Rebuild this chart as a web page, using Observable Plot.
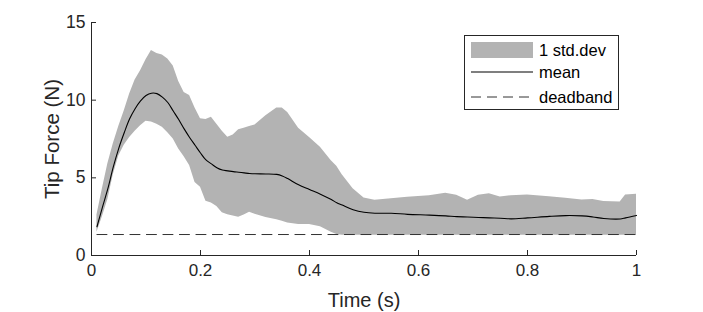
<!DOCTYPE html>
<html><head><meta charset="utf-8">
<script src="https://cdn.jsdelivr.net/npm/d3@7"></script>
<script src="https://cdn.jsdelivr.net/npm/@observablehq/plot@0.6"></script>
<style>
body{margin:0;background:#fff;}
#wrap{position:relative;width:703px;height:312px;font-family:"Liberation Sans",Arial,sans-serif;color:#262626;}
#legend{position:absolute;left:0;top:0;}
</style></head><body><div id="wrap"></div>
<script>
const time  = [0.01,0.02,0.03,0.04,0.05,0.06,0.07,0.08,0.09,0.10,0.11,0.12,0.13,0.14,0.15,0.16,0.17,0.18,0.19,0.20,0.21,0.22,0.23,0.24,0.25,0.26,0.27,0.28,0.29,0.30,0.32,0.34,0.35,0.36,0.38,0.40,0.42,0.44,0.45,0.46,0.48,0.50,0.52,0.55,0.58,0.62,0.65,0.67,0.69,0.71,0.73,0.75,0.77,0.80,0.84,0.87,0.90,0.92,0.94,0.97,0.98,1.00];
const upper = [2.6,4.3,5.9,7.2,8.3,9.3,10.4,11.3,11.9,12.6,13.2,13.0,12.9,12.65,12.2,11.2,10.5,10.3,9.5,8.8,8.75,8.9,8.45,8.0,7.62,7.75,8.1,8.2,8.3,8.4,9.0,9.5,9.5,9.2,8.2,7.6,6.97,6.1,5.75,5.2,4.3,3.7,3.55,3.65,3.75,3.85,4.0,3.88,3.55,3.88,3.97,3.76,3.85,3.9,3.78,3.68,3.58,3.6,3.47,3.45,3.9,3.95];
const lower = [1.5,2.5,3.6,5.2,6.4,7.1,7.6,8.0,8.35,8.65,8.6,8.45,8.25,7.9,7.5,6.85,6.35,5.8,4.7,4.4,3.5,3.38,3.15,2.75,2.62,2.55,2.47,2.6,2.78,2.65,2.45,2.3,2.2,2.1,2.0,2.0,1.85,1.5,1.35,1.3,1.3,1.3,1.3,1.3,1.3,1.3,1.3,1.3,1.3,1.3,1.3,1.3,1.3,1.3,1.3,1.3,1.3,1.3,1.3,1.3,1.3,1.3];
const mean  = [1.85,3.1,4.3,5.7,6.9,7.9,8.8,9.45,9.95,10.3,10.45,10.42,10.2,9.85,9.3,8.75,8.15,7.6,7.1,6.6,6.15,5.9,5.65,5.5,5.45,5.4,5.36,5.32,5.28,5.26,5.25,5.22,5.12,4.95,4.55,4.25,3.95,3.6,3.4,3.25,2.95,2.78,2.72,2.72,2.65,2.6,2.55,2.5,2.48,2.45,2.42,2.4,2.36,2.42,2.52,2.57,2.55,2.48,2.38,2.35,2.42,2.58];
const deadbandTime = [0.01, 1.0];
const deadbandLevel = 1.35;
const xTicks = [0, 0.2, 0.4, 0.6, 0.8, 1];
const yTicks = [0, 5, 10, 15];
const xLabel = "Time (s)";
const yLabel = "Tip Force (N)";
const legendLabels = ["1 std.dev", "mean", "deadband"];

const rows = time.map((t, i) => ({t, upper: upper[i], lower: lower[i], mean: mean[i]}));
const deadband = deadbandTime.map(t => ({t, v: deadbandLevel}));

const BAND = "#b3b3b3", AXIS = "#262626";

const chart = Plot.plot({
  width: 703, height: 312,
  marginLeft: 91, marginRight: 67, marginTop: 22, marginBottom: 57,
  style: {fontFamily: '"Liberation Sans", Arial, sans-serif', color: AXIS, background: "white", overflow: "visible"},
  x: {domain: [0, 1]},
  y: {domain: [0, 15]},
  marks: [
    Plot.areaY(rows, {x: "t", y1: "lower", y2: "upper", fill: BAND, curve: "linear"}),
    Plot.lineY(deadband, {x: "t", y: "v", stroke: "#333", strokeWidth: 1, strokeDasharray: "10,6.5"}),
    Plot.lineY(rows, {x: "t", y: "mean", stroke: "#000", strokeWidth: 1.1, curve: "catmull-rom"}),
    Plot.ruleY([0], {stroke: AXIS}),
    Plot.ruleX([0], {stroke: AXIS}),
    Plot.axisX(xTicks, {tickSize: -5, tickPadding: 13, fontSize: 17, tickFormat: d => String(d), label: null, stroke: AXIS}),
    Plot.axisY(yTicks, {tickSize: -5, tickPadding: 11, fontSize: 17.5, tickFormat: d => String(d), label: null, stroke: AXIS}),
    Plot.text([xLabel], {frameAnchor: "bottom", dy: 37, fontSize: 20, lineAnchor: "top", fill: AXIS}),
    Plot.text([yLabel], {frameAnchor: "left", dx: -39, rotate: -90, textAnchor: "middle", fontSize: 20.5, fill: AXIS})
  ]
});
const wrap = document.getElementById("wrap");
wrap.appendChild(chart);

// legend overlay
const lg = d3.select(wrap).append("svg").attr("id", "legend").attr("width", 703).attr("height", 312)
  .style("font-family", '"Liberation Sans", Arial, sans-serif');
lg.append("rect").attr("x", 464.5).attr("y", 35.5).attr("width", 154).attr("height", 74)
  .attr("fill", "white").attr("stroke", AXIS).attr("stroke-width", 1);
lg.append("rect").attr("x", 471).attr("y", 42).attr("width", 62).attr("height", 16).attr("fill", BAND);
lg.append("line").attr("x1", 471).attr("x2", 533).attr("y1", 72).attr("y2", 72).attr("stroke", "#000").attr("stroke-width", 1.1);
lg.append("line").attr("x1", 471).attr("x2", 533).attr("y1", 97).attr("y2", 97).attr("stroke", "#333").attr("stroke-width", 1).attr("stroke-dasharray", "10,6");
[50, 72, 97].forEach((y, i) => {
  lg.append("text").attr("x", 539).attr("y", y).attr("dy", "0.35em").attr("font-size", 16.5).attr("fill", "#000").text(legendLabels[i]);
});
</script></body></html>
